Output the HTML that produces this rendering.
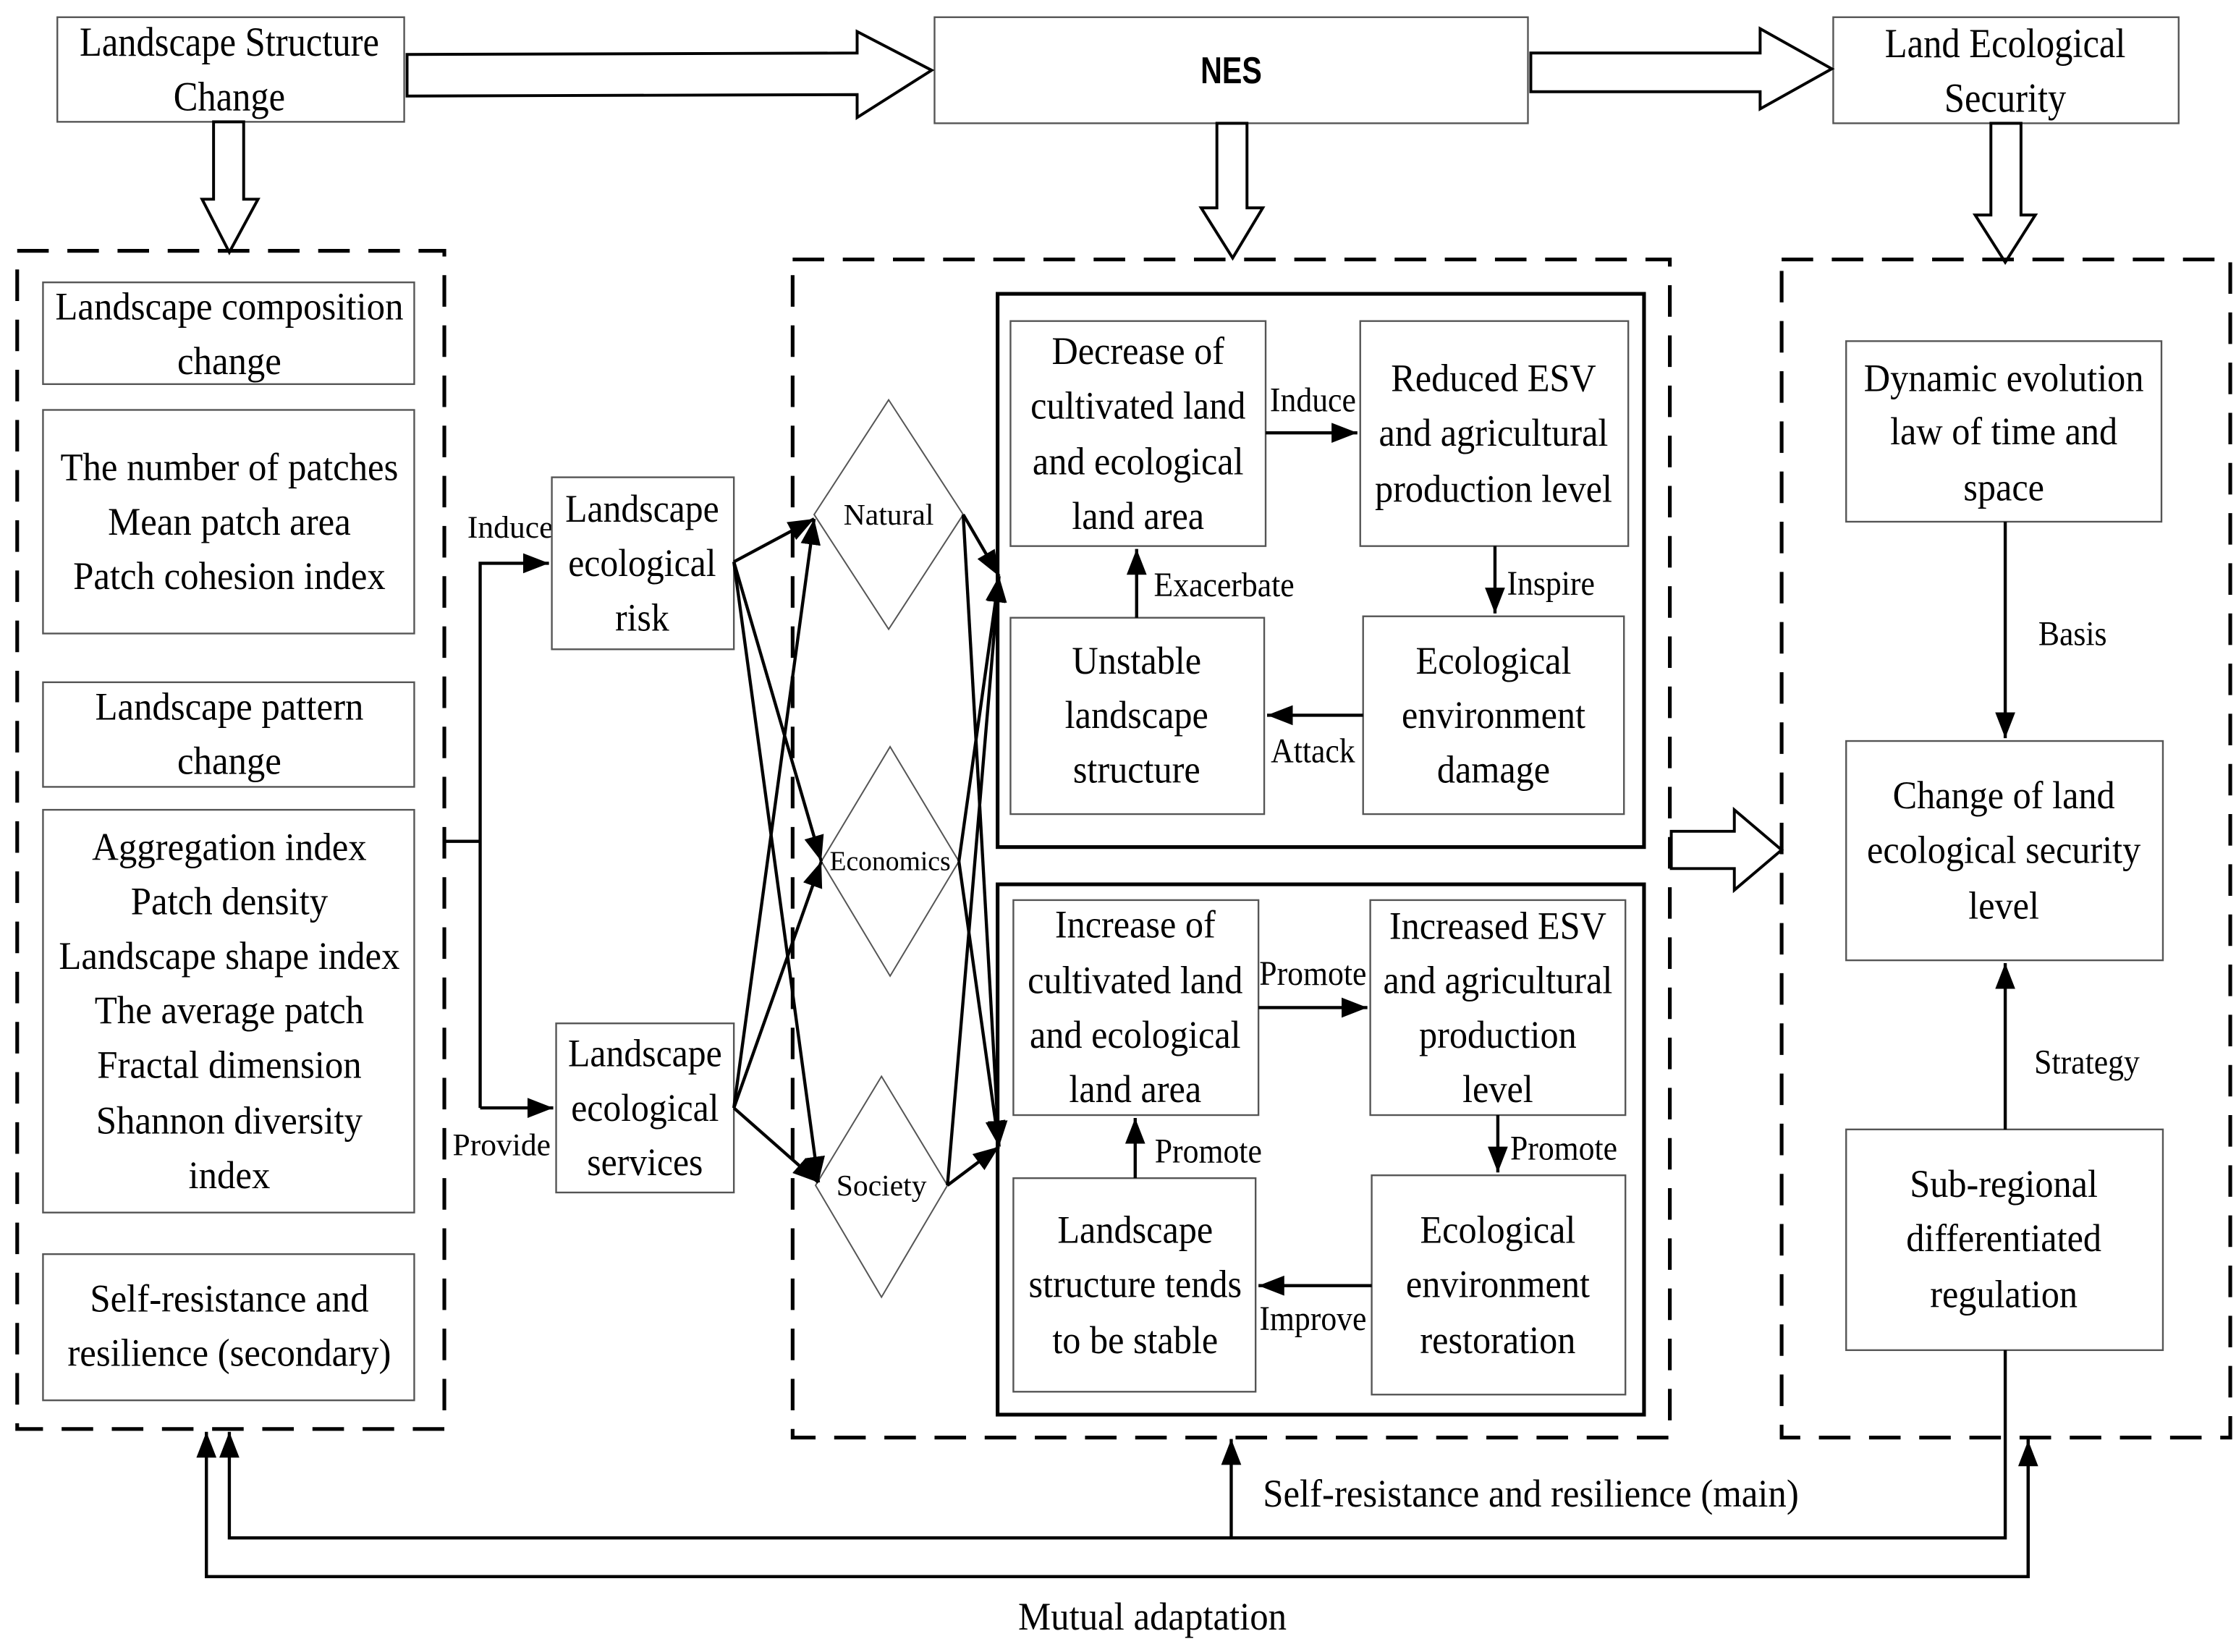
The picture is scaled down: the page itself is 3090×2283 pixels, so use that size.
<!DOCTYPE html>
<html><head><meta charset="utf-8"><style>
html,body{margin:0;padding:0;background:#fff}
svg{display:block}
text{font-family:"Liberation Serif",serif;fill:#000}
.t{font-size:27px;text-anchor:middle}
.s{font-size:24px;text-anchor:middle}
.b{fill:#fff;stroke:#555;stroke-width:1.2}
.l{stroke:#000;stroke-width:2.2;fill:none}
.d{stroke:#000;stroke-width:2.6;fill:none;stroke-dasharray:22 13}
.h{fill:#fff;stroke:#000;stroke-width:2}
</style></head><body>
<svg width="3090" height="2283" viewBox="0 0 1560 1152.6" preserveAspectRatio="none" xmlns="http://www.w3.org/2000/svg">
<defs>
<marker id="a" markerUnits="userSpaceOnUse" markerWidth="20" markerHeight="16" refX="18" refY="7" orient="auto">
<path d="M0,0 L18,7 L0,14 Z" fill="#000"/></marker>
</defs>
<rect width="1560" height="1153" fill="#fff"/>

<!-- top boxes -->
<rect class="b" x="40" y="12" width="242" height="73"/>
<g transform="translate(160,0) scale(0.88,1)"><text class="t" x="0" y="39" style="font-size:29px">Landscape Structure</text><text class="t" x="0" y="77" style="font-size:29px">Change</text></g>
<rect class="b" x="652" y="12" width="414" height="74"/>
<text x="859" y="58" style="font-family:'Liberation Sans',sans-serif;font-size:26px;font-weight:bold;text-anchor:middle" transform="translate(859,0) scale(0.8,1) translate(-859,0)">NES</text>
<rect class="b" x="1279" y="12" width="241" height="74"/>
<g transform="translate(1399,0) scale(0.88,1)"><text class="t" x="0" y="40" style="font-size:29px">Land Ecological</text><text class="t" x="0" y="78" style="font-size:29px">Security</text></g>

<!-- hollow arrows -->
<path class="h" d="M284,38 L598,37 L598,22 L650,49 L598,82 L598,66 L284,67 Z"/>
<path class="h" d="M1068,37 L1228,37 L1228,20 L1278,48 L1228,76 L1228,64 L1068,64 Z"/>
<path class="h" d="M149,85 L170,85 L170,139 L180,139 L160,176 L141,139 L149,139 Z"/>
<path class="h" d="M849,86 L870,86 L870,145 L881,145 L860,180 L838,145 L849,145 Z"/>
<path class="h" d="M1389,86 L1410,86 L1410,150 L1420,150 L1399,183 L1378,150 L1389,150 Z"/>
<path class="h" d="M1166,580 L1210,580 L1210,565 L1243,593 L1210,621 L1210,606 L1166,606 Z"/>

<!-- dashed containers -->
<rect class="d" x="12" y="175" width="298" height="822"/>
<rect class="d" x="553" y="181" width="612" height="822"/>
<rect class="d" x="1243" y="181" width="313" height="822"/>

<!-- left column -->
<rect class="b" x="30" y="197" width="259" height="71"/>
<g transform="translate(160,0) scale(0.95,1)"><text class="t" x="0" y="223">Landscape composition</text><text class="t" x="0" y="261">change</text></g>
<rect class="b" x="30" y="286" width="259" height="156"/>
<g transform="translate(160,0) scale(0.95,1)"><text class="t" x="0" y="335">The number of patches</text><text class="t" x="0" y="373">Mean patch area</text><text class="t" x="0" y="411">Patch cohesion index</text></g>
<rect class="b" x="30" y="476" width="259" height="73"/>
<g transform="translate(160,0) scale(0.95,1)"><text class="t" x="0" y="502">Landscape pattern</text><text class="t" x="0" y="540">change</text></g>
<rect class="b" x="30" y="565" width="259" height="281"/>
<g transform="translate(160,0) scale(0.95,1)"><text class="t" x="0" y="600">Aggregation index</text><text class="t" x="0" y="638">Patch density</text><text class="t" x="0" y="676">Landscape shape index</text><text class="t" x="0" y="714">The average patch</text><text class="t" x="0" y="752">Fractal dimension</text><text class="t" x="0" y="791">Shannon diversity</text><text class="t" x="0" y="829">index</text></g>
<rect class="b" x="30" y="875" width="259" height="102"/>
<g transform="translate(160,0) scale(0.95,1)"><text class="t" x="0" y="915">Self-resistance and</text><text class="t" x="0" y="953">resilience (secondary)</text></g>

<!-- split connector -->
<path class="l" d="M310,587 L335,587"/>
<path class="l" d="M335,773 L335,393 L383,393" marker-end="url(#a)"/>
<path class="l" d="M335,773 L386,773" marker-end="url(#a)"/>
<text x="356" y="375" style="font-size:22px;text-anchor:middle">Induce</text>
<text x="350" y="806" style="font-size:22px;text-anchor:middle">Provide</text>

<rect class="b" x="385" y="333" width="127" height="120"/>
<g transform="translate(448,0) scale(0.93,1)"><text class="t" x="0" y="364">Landscape</text><text class="t" x="0" y="402">ecological</text><text class="t" x="0" y="440">risk</text></g>
<rect class="b" x="388" y="714" width="124" height="118"/>
<g transform="translate(450,0) scale(0.93,1)"><text class="t" x="0" y="744">Landscape</text><text class="t" x="0" y="782">ecological</text><text class="t" x="0" y="820">services</text></g>

<!-- diamonds -->
<path d="M620,279 L672,359 L620,439 L568,359 Z" fill="#fff" stroke="#555" stroke-width="1"/>
<text x="620" y="366" style="font-size:21px;text-anchor:middle">Natural</text>
<path d="M621,521 L669,601 L621,681 L573,601 Z" fill="#fff" stroke="#555" stroke-width="1"/>
<text x="621" y="607" style="font-size:19px;text-anchor:middle">Economics</text>
<path d="M615,751 L661,827 L615,905 L569,827 Z" fill="#fff" stroke="#555" stroke-width="1"/>
<text x="615" y="834" style="font-size:21px;text-anchor:middle">Society</text>

<!-- crossing arrows -->
<g class="l">
<path d="M512,392 L568,362" marker-end="url(#a)"/>
<path d="M512,392 L573,601" marker-end="url(#a)"/>
<path d="M512,392 L571,825" marker-end="url(#a)"/>
<path d="M512,773 L568,362" marker-end="url(#a)"/>
<path d="M512,773 L573,601" marker-end="url(#a)"/>
<path d="M512,773 L571,825" marker-end="url(#a)"/>
<path d="M672,359 L697,402" marker-end="url(#a)"/>
<path d="M672,359 L697,800" marker-end="url(#a)"/>
<path d="M669,601 L697,402" marker-end="url(#a)"/>
<path d="M669,601 L697,800" marker-end="url(#a)"/>
<path d="M661,827 L697,402" marker-end="url(#a)"/>
<path d="M661,827 L697,800" marker-end="url(#a)"/>
</g>

<!-- upper cycle -->
<rect x="696" y="205" width="451" height="386" fill="none" stroke="#000" stroke-width="2.6"/>
<rect class="b" x="705" y="224" width="178" height="157"/>
<g transform="translate(794,0) scale(0.94,1)"><text class="t" x="0" y="254">Decrease of</text><text class="t" x="0" y="292">cultivated land</text><text class="t" x="0" y="331">and ecological</text><text class="t" x="0" y="369">land area</text></g>
<rect class="b" x="949" y="224" width="187" height="157"/>
<g transform="translate(1042,0) scale(0.94,1)"><text class="t" x="0" y="273">Reduced ESV</text><text class="t" x="0" y="311">and agricultural</text><text class="t" x="0" y="350">production level</text></g>
<rect class="b" x="705" y="431" width="177" height="137"/>
<g transform="translate(793,0) scale(0.94,1)"><text class="t" x="0" y="470">Unstable</text><text class="t" x="0" y="508">landscape</text><text class="t" x="0" y="546">structure</text></g>
<rect class="b" x="951" y="430" width="182" height="138"/>
<g transform="translate(1042,0) scale(0.94,1)"><text class="t" x="0" y="470">Ecological</text><text class="t" x="0" y="508">environment</text><text class="t" x="0" y="546">damage</text></g>
<path class="l" d="M883,302 L947,302" marker-end="url(#a)"/>
<path class="l" d="M1043,381 L1043,428" marker-end="url(#a)"/>
<path class="l" d="M951,499 L884,499" marker-end="url(#a)"/>
<path class="l" d="M793,431 L793,383" marker-end="url(#a)"/>
<g transform="translate(916,0) scale(0.92,1)"><text class="s" x="0" y="287">Induce</text><text class="s" x="0" y="532">Attack</text></g>
<g transform="translate(1082,0) scale(0.92,1)"><text class="s" x="0" y="415">Inspire</text></g>
<g transform="translate(854,0) scale(0.92,1)"><text class="s" x="0" y="416">Exacerbate</text></g>

<!-- lower cycle -->
<rect x="696" y="617" width="451" height="370" fill="none" stroke="#000" stroke-width="2.6"/>
<rect class="b" x="707" y="628" width="171" height="150"/>
<g transform="translate(792,0) scale(0.94,1)"><text class="t" x="0" y="654">Increase of</text><text class="t" x="0" y="693">cultivated land</text><text class="t" x="0" y="731">and ecological</text><text class="t" x="0" y="769">land area</text></g>
<rect class="b" x="956" y="628" width="178" height="150"/>
<g transform="translate(1045,0) scale(0.94,1)"><text class="t" x="0" y="655">Increased ESV</text><text class="t" x="0" y="693">and agricultural</text><text class="t" x="0" y="731">production</text><text class="t" x="0" y="769">level</text></g>
<rect class="b" x="707" y="822" width="169" height="149"/>
<g transform="translate(792,0) scale(0.94,1)"><text class="t" x="0" y="867">Landscape</text><text class="t" x="0" y="905">structure tends</text><text class="t" x="0" y="944">to be stable</text></g>
<rect class="b" x="957" y="820" width="177" height="153"/>
<g transform="translate(1045,0) scale(0.94,1)"><text class="t" x="0" y="867">Ecological</text><text class="t" x="0" y="905">environment</text><text class="t" x="0" y="944">restoration</text></g>
<path class="l" d="M878,703 L954,703" marker-end="url(#a)"/>
<path class="l" d="M1045,778 L1045,818" marker-end="url(#a)"/>
<path class="l" d="M957,897 L878,897" marker-end="url(#a)"/>
<path class="l" d="M792,822 L792,780" marker-end="url(#a)"/>
<g transform="translate(916,0) scale(0.92,1)"><text class="s" x="0" y="687">Promote</text><text class="s" x="0" y="928">Improve</text></g>
<g transform="translate(1091,0) scale(0.92,1)"><text class="s" x="0" y="809">Promote</text></g>
<g transform="translate(843,0) scale(0.92,1)"><text class="s" x="0" y="811">Promote</text></g>

<!-- right column -->
<rect class="b" x="1288" y="238" width="220" height="126"/>
<g transform="translate(1398,0) scale(0.94,1)"><text class="t" x="0" y="273">Dynamic evolution</text><text class="t" x="0" y="310">law of time and</text><text class="t" x="0" y="349">space</text></g>
<rect class="b" x="1288" y="517" width="221" height="153"/>
<g transform="translate(1398,0) scale(0.94,1)"><text class="t" x="0" y="564">Change of land</text><text class="t" x="0" y="602">ecological security</text><text class="t" x="0" y="641">level</text></g>
<rect class="b" x="1288" y="788" width="221" height="154"/>
<g transform="translate(1398,0) scale(0.94,1)"><text class="t" x="0" y="835">Sub-regional</text><text class="t" x="0" y="873">differentiated</text><text class="t" x="0" y="912">regulation</text></g>
<path class="l" d="M1399,364 L1399,515" marker-end="url(#a)"/>
<path class="l" d="M1399,788 L1399,672" marker-end="url(#a)"/>
<g transform="translate(1446,0) scale(0.92,1)"><text class="s" x="0" y="450">Basis</text></g>
<g transform="translate(1456,0) scale(0.92,1)"><text class="s" x="0" y="749">Strategy</text></g>

<!-- feedback loops -->
<path class="l" d="M1399,942 L1399,1073 L160,1073 L160,999" marker-end="url(#a)"/>
<path class="l" d="M859,1073 L859,1004" marker-end="url(#a)"/>
<path class="l" d="M1415,1004 L1415,1100 L144,1100 L144,999" marker-end="url(#a)"/>
<path class="l" d="M1415,1100 L1415,1005" marker-end="url(#a)"/>
<g transform="translate(1068,0) scale(0.95,1)"><text class="t" x="0" y="1051">Self-resistance and resilience (main)</text></g>
<g transform="translate(804,0) scale(0.95,1)"><text class="t" x="0" y="1137">Mutual adaptation</text></g>
</svg>
</body></html>
